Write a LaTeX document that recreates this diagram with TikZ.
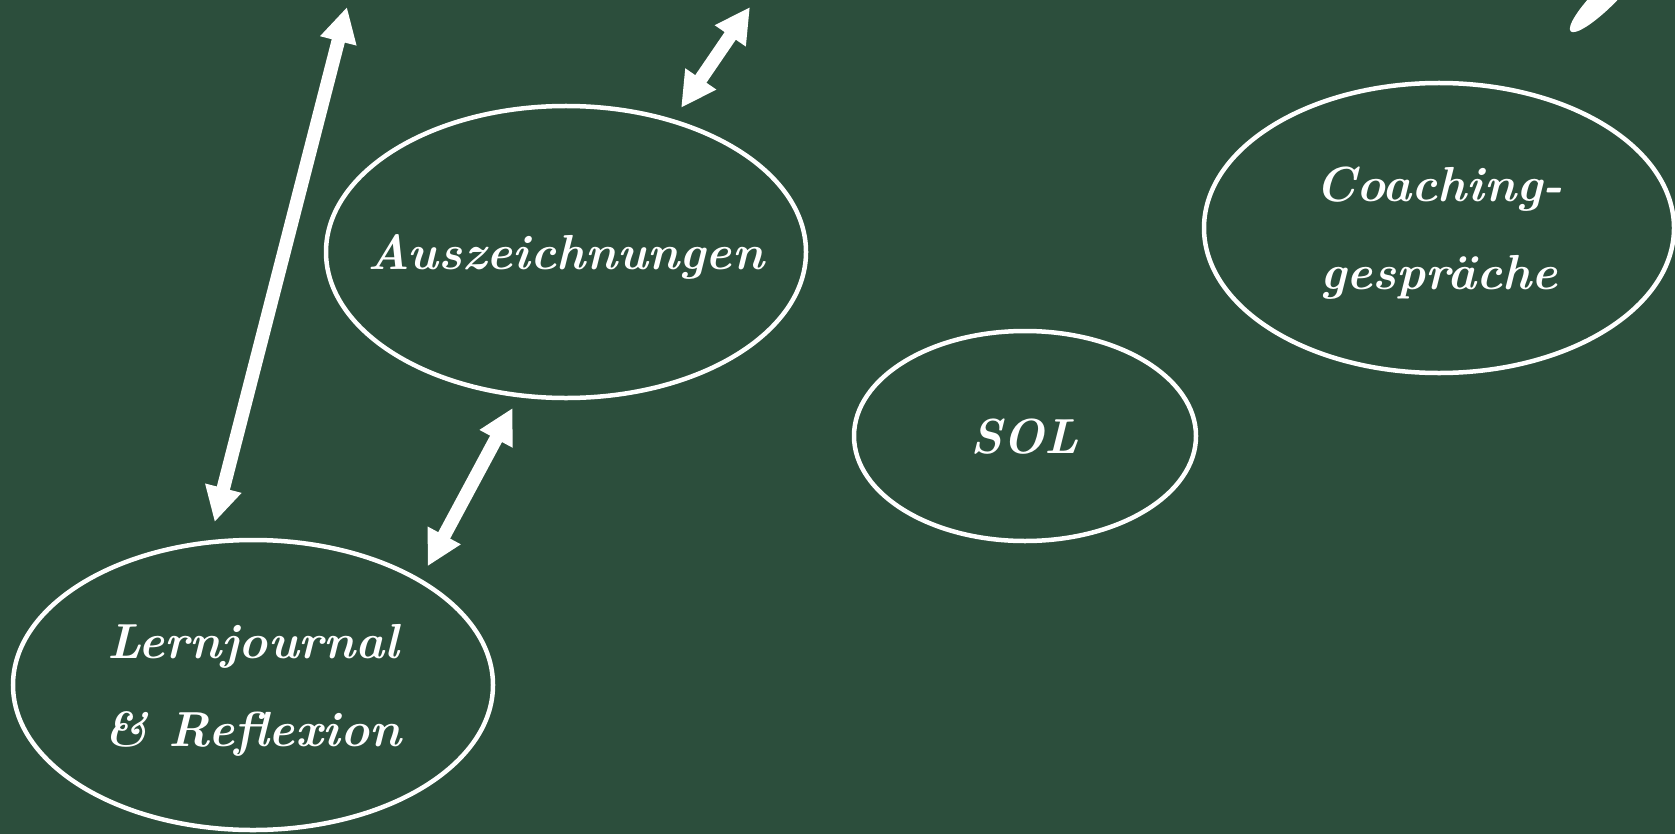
\documentclass[tikz,border=0pt]{standalone}
\usetikzlibrary{shapes.geometric,arrows.meta}
\definecolor{board}{RGB}{44,78,60}
\tikzset{
  bubble/.style={draw=white, line width=0.9mm, ellipse, inner sep=0pt, outer sep=0pt,
    text=white, font=\fontsize{28}{50}\selectfont\bfseries\itshape},
  link/.style={white, line width=2.7mm,
    {Triangle[width=7mm,length=7mm]}-{Triangle[width=7mm,length=7mm]}},
}
\newcommand{\inlabel}[1]{\makebox[0pt]{\begin{tabular}{@{}c@{}}#1\end{tabular}}}
\begin{document}
\begin{tikzpicture}[x=0.2mm, y=-0.2mm]
    \useasboundingbox (0,0) rectangle (1675,834);
    \fill[board] (0,0) rectangle (1675,834);
    \clip (0,0) rectangle (1675,834);

    \node[bubble, minimum width=96mm, minimum height=58.4mm] (ausz) at (566,252) {\inlabel{Auszeichnungen}};
    \node[bubble, minimum width=96mm, minimum height=58mm] (lern) at (253,685) {\inlabel{Lernjournal\\ \& Reflexion}};
    \node[bubble, minimum width=68.4mm, minimum height=42mm] (sol) at (1025,436) {\inlabel{SOL}};
    \node[bubble, minimum width=94mm, minimum height=58mm] (coach) at (1439,228) {\inlabel{Coaching-\\ gespräche}};

    \coordinate (upL) at (347,7);
    \coordinate (upR) at (750,7);

    \draw[link, shorten >=4.2mm] (upL) -- (lern.107);
    \draw[link, shorten >=3.2mm] (upR) -- (ausz.51);
    \draw[link, shorten <=2.9mm, shorten >=3.3mm] (ausz.252) -- (lern.32);

    % cut-off stroke in the corner
    \fill[white, rotate around={45:(1606,-4)}] (1606,-4) ellipse (50 and 11);
\end{tikzpicture}
\end{document}
